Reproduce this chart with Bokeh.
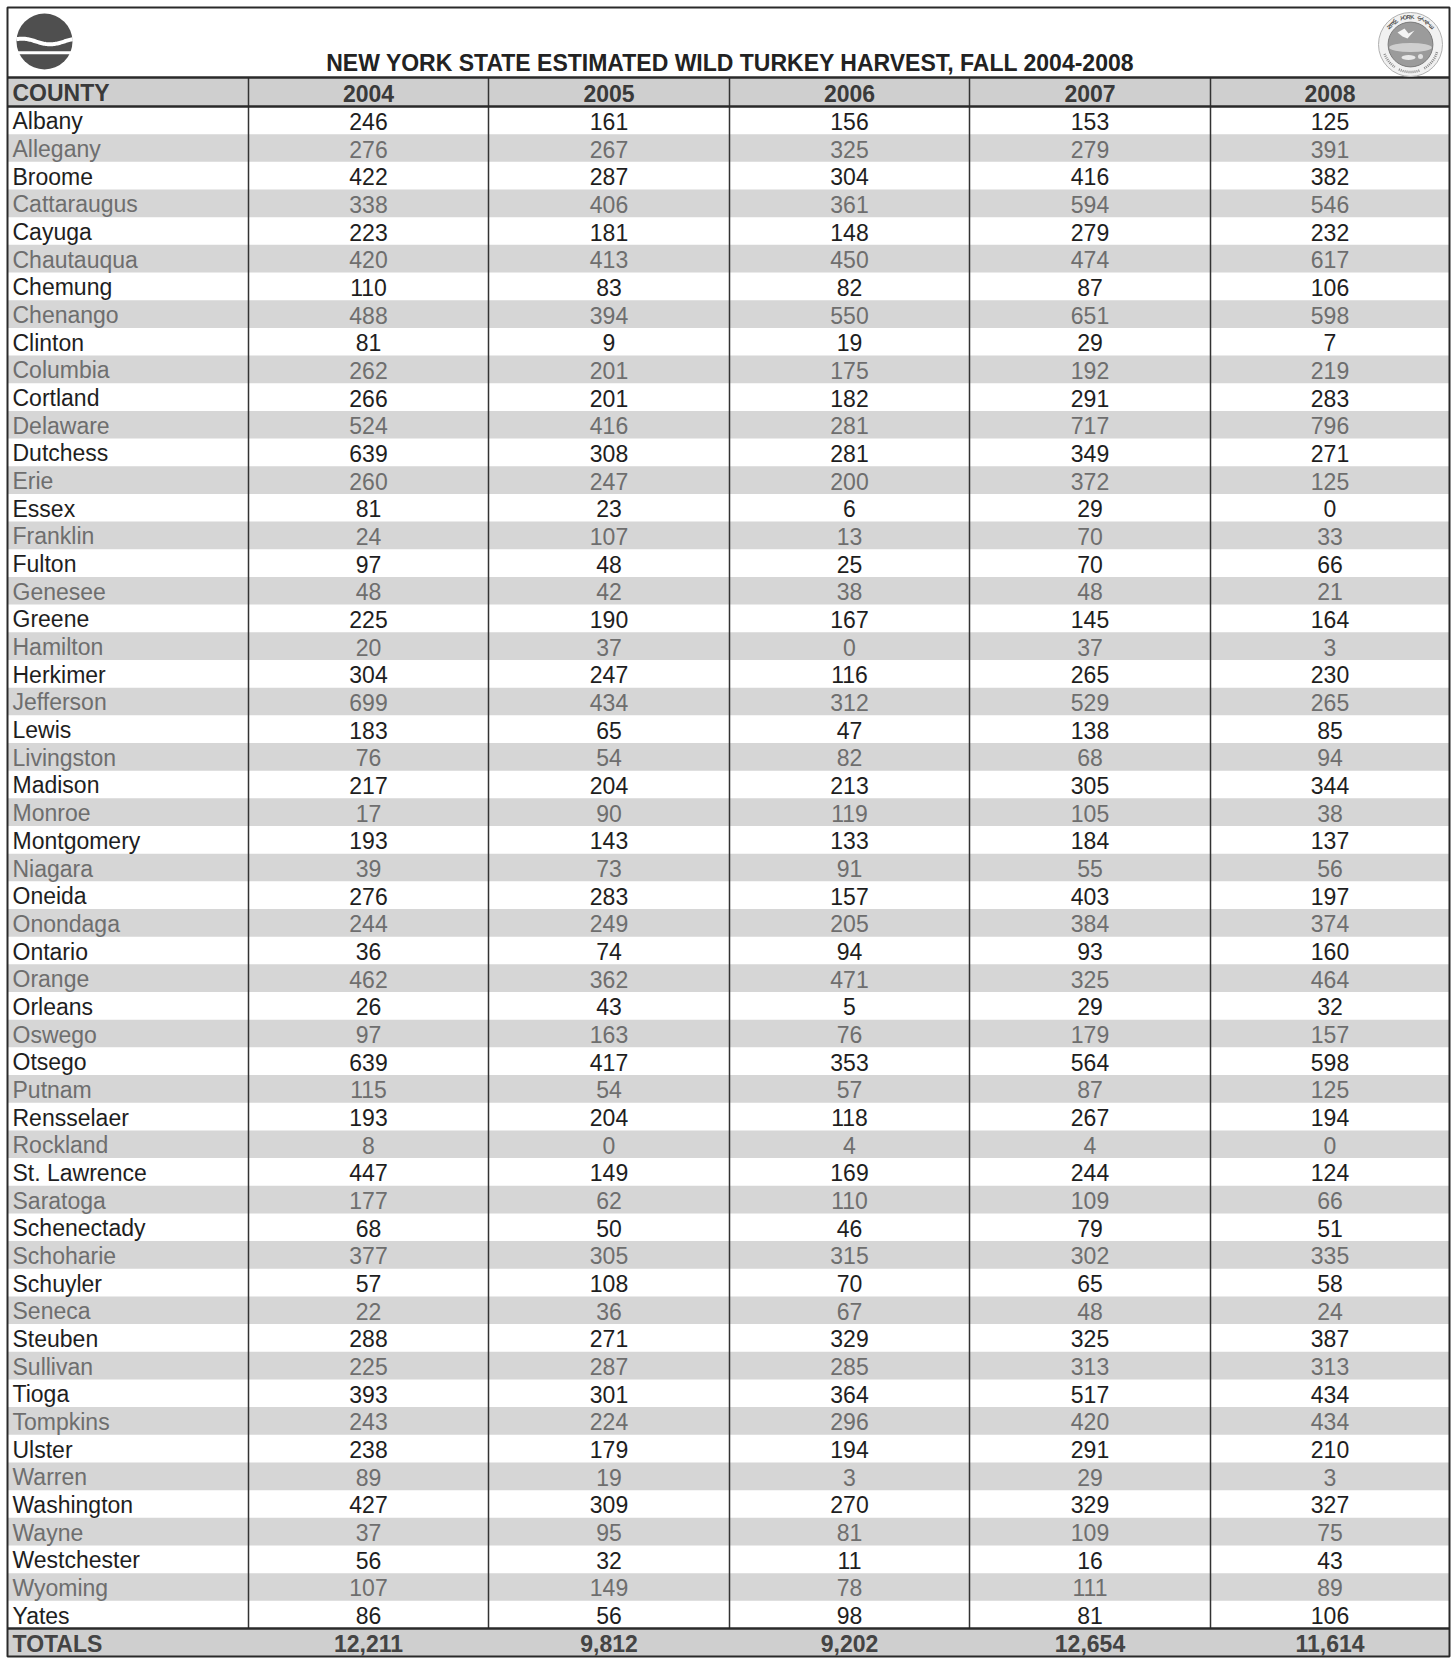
import numpy as np
from bokeh.plotting import figure
from bokeh.models import Range1d, ColumnDataSource
from bokeh.core.properties import value
from bokeh.embed import file_html
from bokeh.resources import INLINE

# ---------------- data ----------------
title = "NEW YORK STATE ESTIMATED WILD TURKEY HARVEST, FALL 2004-2008"
header_first = "COUNTY"
years = ["2004", "2005", "2006", "2007", "2008"]

counties = ["Albany", "Allegany", "Broome", "Cattaraugus", "Cayuga", "Chautauqua",
            "Chemung", "Chenango", "Clinton", "Columbia", "Cortland", "Delaware",
            "Dutchess", "Erie", "Essex", "Franklin", "Fulton", "Genesee", "Greene",
            "Hamilton", "Herkimer", "Jefferson", "Lewis", "Livingston", "Madison",
            "Monroe", "Montgomery", "Niagara", "Oneida", "Onondaga", "Ontario",
            "Orange", "Orleans", "Oswego", "Otsego", "Putnam", "Rensselaer",
            "Rockland", "St. Lawrence", "Saratoga", "Schenectady", "Schoharie",
            "Schuyler", "Seneca", "Steuben", "Sullivan", "Tioga", "Tompkins",
            "Ulster", "Warren", "Washington", "Wayne", "Westchester", "Wyoming",
            "Yates"]

h2004 = [246, 276, 422, 338, 223, 420, 110, 488, 81, 262, 266, 524, 639, 260, 81, 24,
         97, 48, 225, 20, 304, 699, 183, 76, 217, 17, 193, 39, 276, 244, 36, 462, 26,
         97, 639, 115, 193, 8, 447, 177, 68, 377, 57, 22, 288, 225, 393, 243, 238, 89,
         427, 37, 56, 107, 86]
h2005 = [161, 267, 287, 406, 181, 413, 83, 394, 9, 201, 201, 416, 308, 247, 23, 107,
         48, 42, 190, 37, 247, 434, 65, 54, 204, 90, 143, 73, 283, 249, 74, 362, 43,
         163, 417, 54, 204, 0, 149, 62, 50, 305, 108, 36, 271, 287, 301, 224, 179, 19,
         309, 95, 32, 149, 56]
h2006 = [156, 325, 304, 361, 148, 450, 82, 550, 19, 175, 182, 281, 281, 200, 6, 13,
         25, 38, 167, 0, 116, 312, 47, 82, 213, 119, 133, 91, 157, 205, 94, 471, 5,
         76, 353, 57, 118, 4, 169, 110, 46, 315, 70, 67, 329, 285, 364, 296, 194, 3,
         270, 81, 11, 78, 98]
h2007 = [153, 279, 416, 594, 279, 474, 87, 651, 29, 192, 291, 717, 349, 372, 29, 70,
         70, 48, 145, 37, 265, 529, 138, 68, 305, 105, 184, 55, 403, 384, 93, 325, 29,
         179, 564, 87, 267, 4, 244, 109, 79, 302, 65, 48, 325, 313, 517, 420, 291, 29,
         329, 109, 16, 111, 81]
h2008 = [125, 391, 382, 546, 232, 617, 106, 598, 7, 219, 283, 796, 271, 125, 0, 33,
         66, 21, 164, 3, 230, 265, 85, 94, 344, 38, 137, 56, 197, 374, 160, 464, 32,
         157, 598, 125, 194, 0, 124, 66, 51, 335, 58, 24, 387, 313, 434, 434, 210, 3,
         327, 75, 43, 89, 106]
totals_label = "TOTALS"
totals = ["12,211", "9,812", "9,202", "12,654", "11,614"]

series = [h2004, h2005, h2006, h2007, h2008]

# ---------------- layout ----------------
FONT = "Liberation Sans"
LEFT, RIGHT, TOP, BOTTOM = 7, 1449, 7, 1656
HEAD_TOP, HEAD_BOT = 77, 106
BODY_BOT = 1628
n = len(counties)
pitch = (BODY_BOT - HEAD_BOT) / n
col_edges = [LEFT, 248, 488, 729, 969, 1210, RIGHT]
col_centers = [(col_edges[i] + col_edges[i + 1]) / 2 for i in range(1, 6)]

row_top = [HEAD_BOT + i * pitch for i in range(n)]
row_mid = [t + pitch / 2 + 1 for t in row_top]

p = figure(width=1455, height=1658, x_range=Range1d(0, 1455), y_range=Range1d(1658, 0),
           output_backend="svg", toolbar_location=None, x_axis_type=None,
           y_axis_type=None, min_border=0, outline_line_color=None)
p.grid.visible = False
p.background_fill_color = "white"
p.border_fill_color = "white"

# stripes
odd = [i for i in range(n) if i % 2 == 1]
p.quad(left=LEFT, right=RIGHT, top=[row_top[i] for i in odd],
       bottom=[row_top[i] + pitch for i in odd], fill_color="#d6d6d6", line_color=None)
# header and totals background
p.quad(left=LEFT, right=RIGHT, top=[HEAD_TOP, BODY_BOT], bottom=[HEAD_BOT, BOTTOM],
       fill_color="#cfcfcf", line_color=None)

# vertical dividers
xs = [[x, x] for x in col_edges[1:-1]]
ys = [[HEAD_TOP, BODY_BOT] for _ in col_edges[1:-1]]
p.multi_line(xs=xs, ys=ys, line_color="#333333", line_width=1.5)

# horizontal rules
p.multi_line(xs=[[LEFT, RIGHT], [LEFT, RIGHT], [LEFT, RIGHT]],
             ys=[[HEAD_TOP, HEAD_TOP], [HEAD_BOT, HEAD_BOT], [BODY_BOT, BODY_BOT]],
             line_color="#2a2a2a", line_width=2.5)
# outer border
p.quad(left=LEFT, right=RIGHT, top=TOP, bottom=BOTTOM, fill_color=None,
       line_color="#2a2a2a", line_width=2)

# colours per row
row_colors = ["#1e1e1e" if i % 2 == 0 else "#6e6e6e" for i in range(n)]

FS = "23px"
# county names
src = ColumnDataSource(dict(x=[12] * n, y=row_mid, text=counties, c=row_colors))
p.text(x="x", y="y", text="text", text_color="c", source=src, text_align="left",
       text_baseline="middle", text_font=value(FONT), text_font_size=FS)

for j, vals in enumerate(series):
    s = ColumnDataSource(dict(x=[col_centers[j]] * n, y=row_mid,
                              text=[str(v) for v in vals], c=row_colors))
    p.text(x="x", y="y", text="text", text_color="c", source=s, text_align="center",
           text_baseline="middle", text_font=value(FONT), text_font_size=FS)

# header texts
hy = (HEAD_TOP + HEAD_BOT) / 2 + 1
p.text(x=[12], y=[hy], text=[header_first], text_align="left", text_baseline="middle",
       text_font=value(FONT), text_font_size=FS, text_color="#3a3a3a",
       text_font_style="bold")
p.text(x=col_centers, y=[hy] * 5, text=years, text_align="center",
       text_baseline="middle", text_font=value(FONT), text_font_size=FS,
       text_color="#3a3a3a", text_font_style="bold")

# totals
ty = (BODY_BOT + BOTTOM) / 2 + 1
p.text(x=[12], y=[ty], text=[totals_label], text_align="left", text_baseline="middle",
       text_font=value(FONT), text_font_size=FS, text_color="#444444",
       text_font_style="bold")
p.text(x=col_centers, y=[ty] * 5, text=totals, text_align="center",
       text_baseline="middle", text_font=value(FONT), text_font_size=FS,
       text_color="#444444", text_font_style="bold")

# title
p.text(x=[730], y=[62], text=[title], text_align="center", text_baseline="middle",
       text_font=value(FONT), text_font_size="23px", text_color="#222222",
       text_font_style="bold")

# left logo
cx, cy, r = 44, 41, 28
p.circle(x=[cx], y=[cy], radius=r, fill_color="#4f4f4f", line_color=None)
wx = np.linspace(cx - r, cx + r, 60)
u = (wx - cx) / r
wy = cy + r * (0.0 + 0.10 * np.sin(np.pi * (u + 0.3)))
p.line(x=wx, y=wy, line_color="white", line_width=4)
p.line(x=[cx - r, cx + r], y=[cy + 0.4 * r] * 2, line_color="white", line_width=3)

# right logo (emblem)
rx, ry, rr = 1410, 44, 32
p.circle(x=[rx], y=[ry], radius=rr, fill_color="#f1f1f1", line_color="#b0b0b0",
         line_width=1)
ri = rr * 0.7
p.circle(x=[rx], y=[ry], radius=ri, fill_color="#9b9b9b", line_color="#7a7a7a",
         line_width=1)
# light landscape band
p.ellipse(x=[rx], y=[ry + 3], width=2 * ri * 0.95, height=9, fill_color="#cfcfcf",
          line_color=None)
# bird
p.patch(x=[rx - 13, rx - 6, rx - 2, rx + 4, rx - 3, rx - 8, rx - 13],
        y=[ry - 12, ry - 16, ry - 11, ry - 14, ry - 6, ry - 8, ry - 12],
        fill_color="#f4f4f4", line_color=None)
# fish
p.ellipse(x=[rx - 2], y=[ry + 13], width=14, height=5, fill_color="#e8e8e8",
          line_color=None)
p.circle(x=[rx + 10], y=[ry + 12], radius=2.5, fill_color="#e0e0e0", line_color=None)
# ring lettering texture
ring = rr * 0.86
p.arc(x=[rx] * 3, y=[ry] * 3, radius=ring,
      start_angle=[np.radians(200), np.radians(245), np.radians(300)],
      end_angle=[np.radians(235), np.radians(290), np.radians(345)],
      line_color="#8a8a8a", line_width=2.5, line_dash="1 1")
word = "NEW YORK STATE"
angs = np.radians(np.linspace(140, 40, len(word)))
p.text(x=rx + ring * np.cos(angs), y=ry - ring * np.sin(angs), text=list(word),
       angle=-(angs - np.pi / 2), text_align="center", text_baseline="middle",
       text_font=value(FONT), text_font_size="6px", text_color="#555555",
       text_font_style="bold")

open("out.html", "w").write(file_html(p, INLINE))
